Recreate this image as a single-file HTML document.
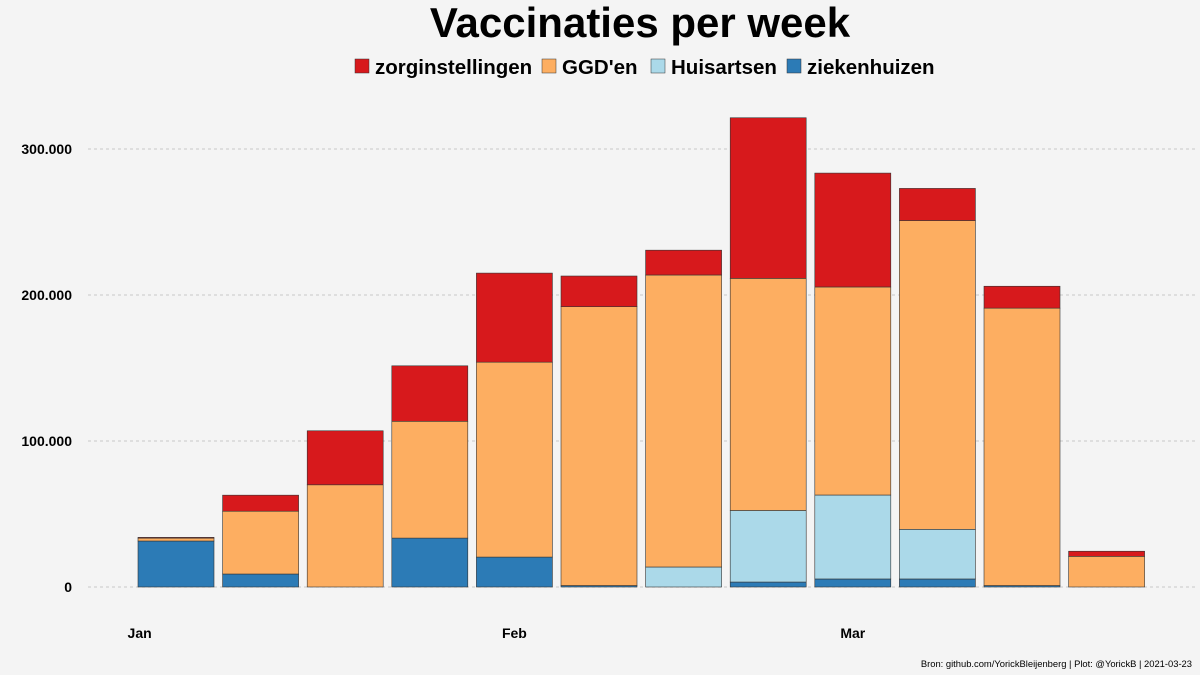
<!DOCTYPE html>
<html><head><meta charset="utf-8"><style>
body{margin:0;background:#f4f4f4;}
svg{display:block;font-family:"Liberation Sans",Arial,sans-serif;}
</style></head><body>
<svg id="c" width="1200" height="675" viewBox="0 0 1200 675">
<rect width="1200" height="675" fill="#f4f4f4"/>
<text x="640" y="37" text-anchor="middle" font-size="42" font-weight="bold" fill="#000">Vaccinaties per week</text>
<g id="legend"></g>
<g id="grid"></g>
<g id="bars"></g>
<g id="xax"></g>
<text x="1192" y="667" text-anchor="end" font-size="9.4" fill="#000">Bron: github.com/YorickBleijenberg | Plot: @YorickB  |  2021-03-23</text>
</svg>
<script>
const ziekenhuizen=[31500,8900,0,33500,20500,1000,0,3400,5500,5500,1000,0];
const huisartsen=[0,0,0,0,0,0,13700,49000,57500,34000,0,0];
const ggd=[2000,43000,70000,80000,133500,191000,200000,159000,142500,211500,190000,21000];
const zorg=[500,11000,37000,38000,61000,21000,17000,110000,78000,22000,15000,3500];
const yTicks=[0,100000,200000,300000];
const yTickLabels=["0","100.000","200.000","300.000"];
const monthLabels=["Jan","Feb","Mar"];
const monthPos=[-0.43,4,8];
const seriesNames=["zorginstellingen","GGD'en","Huisartsen","ziekenhuizen"];
const colors={z:"#d7191c",g:"#fdae61",h:"#abd9e9",k:"#2c7bb6"};
const NS="http://www.w3.org/2000/svg";
function y(v){return 587-v*146/100000;}
function xc(i){return 176+i*84.6;}
function mk(tag,attrs,parent){const e=document.createElementNS(NS,tag);for(const k in attrs)e.setAttribute(k,attrs[k]);parent.appendChild(e);return e;}
const grid=document.getElementById('grid');
yTicks.forEach((t,i)=>{
  const l=mk('line',{x1:88,x2:1195,y1:y(t),y2:y(t),stroke:'#c8c8c8','stroke-dasharray':'3,3'},grid);
  
  
  const tx=mk('text',{x:72,y:y(t)+5,'text-anchor':'end','font-size':14,'font-weight':'bold'},grid);
  tx.textContent=yTickLabels[i];
  
  
});
const bars=document.getElementById('bars');
for(let i=0;i<ggd.length;i++){
  let base=0;
  const segs=[[ziekenhuizen[i],colors.k,'ziekenhuizen'],[huisartsen[i],colors.h,'huisartsen'],[ggd[i],colors.g,'ggd'],[zorg[i],colors.z,'zorginstellingen']];
  segs.forEach(s=>{
    if(s[0]<=0)return;
    const r=mk('rect',{x:xc(i)-38,width:76,y:y(base+s[0]),height:y(base)-y(base+s[0]),fill:s[1],stroke:'#333','stroke-width':0.6},bars);
    
    
    base+=s[0];
  });
}
const xax=document.getElementById('xax');
monthLabels.forEach((m,i)=>{
  const t=mk('text',{x:xc(monthPos[i]),y:638,'text-anchor':'middle','font-size':14,'font-weight':'bold'},xax);
  t.textContent=m;
  
  
});
const leg=document.getElementById('legend');
const lc=[colors.z,colors.g,colors.h,colors.k];
const lx=[355,542,651,787];
seriesNames.forEach((n,i)=>{
  const r=mk('rect',{x:lx[i],y:59,width:14,height:14,fill:lc[i],stroke:'#333','stroke-width':0.5},leg);
  
  
  const t=mk('text',{x:lx[i]+20,y:74,'font-size':20.5,'font-weight':'bold'},leg);
  t.textContent=n;
  
  
});
</script>
</body></html>
